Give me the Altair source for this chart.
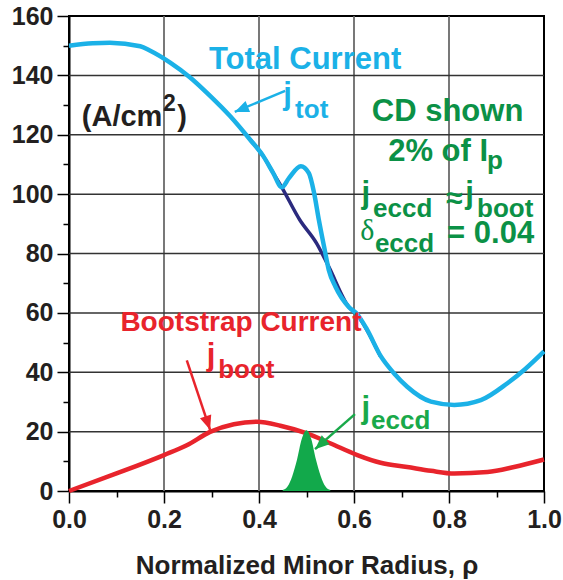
import math
import altair as alt
import pandas as pd

# ---------------- data ----------------
# total current with ECCD (cyan)
tot_x = [0.0, 0.05, 0.086, 0.15, 0.171, 0.213, 0.255, 0.297, 0.339, 0.381, 0.409, 0.430,
         0.448, 0.463, 0.488, 0.505, 0.516, 0.526, 0.537, 0.547, 0.561, 0.589, 0.607,
         0.627, 0.656, 0.685, 0.712, 0.762, 0.811, 0.867, 0.923, 0.96, 1.0]
tot_y = [150.0, 150.8, 151.0, 149.8, 148.3, 144.3, 139.3, 133.1, 126.3, 118.4, 112.8, 107.1,
         102.3, 105.4, 109.4, 107.1, 100.4, 91.3, 82.3, 74.4, 68.8, 62.0, 59.5,
         54.5, 45.5, 39.5, 35.1, 30.1, 29.0, 30.6, 36.3, 41.0, 47.0]

# total current without the ECCD bump (dark blue)
nocd_x = [0.381, 0.409, 0.430, 0.448, 0.486, 0.521, 0.547, 0.589, 0.607, 0.627, 0.656]
nocd_y = [118.4, 112.8, 107.1, 102.3, 91.3, 83.5, 75.5, 62.0, 59.3, 54.3, 45.3]

# bootstrap current (red)
boot_x = [0.0, 0.1, 0.2, 0.248, 0.297, 0.347, 0.396, 0.445, 0.501, 0.551, 0.607,
          0.656, 0.712, 0.762, 0.811, 0.881, 0.937, 1.0]
boot_y = [0.0, 5.9, 12.1, 15.4, 19.9, 22.5, 23.3, 22.0, 19.4, 16.0, 12.1,
          9.5, 8.1, 6.8, 5.9, 6.4, 8.1, 10.6]

# ECCD current (green filled peak)
eccd_x = [0.45, 0.46, 0.47, 0.48, 0.49, 0.50, 0.51, 0.52, 0.53, 0.54, 0.55]
eccd_y = [0.3, 1.5, 5.0, 10.5, 17.5, 20.5, 17.5, 10.5, 5.0, 1.5, 0.3]

x_ticks = [round(i * 0.1, 1) for i in range(11)]
y_ticks = list(range(0, 161, 10))
x_grid = [0.2, 0.4, 0.6, 0.8]
y_grid = [20, 40, 60, 80, 100, 120, 140]

# ---------------- colours ----------------
CYAN = "#1bb1e7"
NAVY = "#2b2a7e"
RED = "#e8242c"
GREEN_FILL = "#12a94b"
GREEN_DARK = "#0b9146"
GREEN_LIGHT = "#19a94a"
INK = "#231f20"

FONT = "Liberation Sans"
W, H = 475, 475

x_major = "round(datum.value*10) % 2 == 0"
y_major = "round(datum.value/10) % 2 == 0"

x_enc = alt.X(
    "x:Q",
    scale=alt.Scale(domain=[0, 1], nice=False, zero=False),
    axis=alt.Axis(
        values=x_ticks,
        grid=False,
        labelFlush=False,
        title="Normalized Minor Radius, ρ",
        labelExpr=x_major + " ? format(datum.value, '.1f') : ''",
        tickSize={"condition": {"test": x_major, "value": 12}, "value": 6},
        labelPadding=4,
        titlePadding=20,
    ),
)
y_enc = alt.Y(
    "y:Q",
    scale=alt.Scale(domain=[0, 160], nice=False),
    axis=alt.Axis(
        values=y_ticks,
        grid=False,
        labelFlush=False,
        title=None,
        labelExpr=y_major + " ? format(datum.value, 'd') : ''",
        tickSize={"condition": {"test": y_major, "value": 12}, "value": 6},
        labelPadding=4,
    ),
)

df_tot = pd.DataFrame({"x": tot_x, "y": tot_y})
df_nocd = pd.DataFrame({"x": nocd_x, "y": nocd_y})
df_boot = pd.DataFrame({"x": boot_x, "y": boot_y})
df_eccd = pd.DataFrame({"x": eccd_x, "y": eccd_y})

# grid lines (major only)
vgrid = alt.Chart(pd.DataFrame({"x": x_grid})).mark_rule(color="#6a6a6a", strokeWidth=1.8).encode(x=x_enc)
hgrid = alt.Chart(pd.DataFrame({"y": y_grid})).mark_rule(color="#333333", strokeWidth=1.5).encode(y=y_enc)

nocd = alt.Chart(df_nocd).mark_line(color=NAVY, strokeWidth=3.5, interpolate="monotone").encode(x=x_enc, y=y_enc)
tot = alt.Chart(df_tot).mark_line(color=CYAN, strokeWidth=4.5, interpolate="monotone").encode(x=x_enc, y=y_enc)
boot = alt.Chart(df_boot).mark_line(color=RED, strokeWidth=4.5, interpolate="monotone").encode(x=x_enc, y=y_enc)
eccd = alt.Chart(df_eccd).mark_area(color=GREEN_FILL, opacity=1, interpolate="monotone").encode(x=x_enc, y=y_enc)

# ---------------- arrows (start -> tip, data coords) ----------------
arrows = [
    (0.455, 134.8, 0.349, 127.7, CYAN),
    (0.248, 44.0, 0.297, 20.6, RED),
    (0.602, 25.9, 0.518, 14.1, GREEN_LIGHT),
]
px_x, px_y = W / 1.0, H / 160.0
arrow_layers = []
for (x0, y0, x1, y1, col) in arrows:
    dx = (x1 - x0) * px_x
    dy = -(y1 - y0) * px_y
    ang = math.degrees(math.atan2(dx, -dy)) % 360
    seg = pd.DataFrame({"x": [x0], "y": [y0], "x2": [x1], "y2": [y1]})
    arrow_layers.append(
        alt.Chart(seg).mark_rule(color=col, strokeWidth=2.5).encode(
            x=x_enc, y=y_enc, x2="x2:Q", y2="y2:Q")
    )
    head = pd.DataFrame({"x": [x1], "y": [y1], "a": [ang]})
    arrow_layers.append(
        alt.Chart(head).mark_point(
            shape="M0,0L0.42,1L-0.42,1Z", filled=True, opacity=1, color=col, size=800, strokeWidth=0
        ).encode(x=x_enc, y=y_enc, angle=alt.Angle("a:Q", scale=None))
    )

# ---------------- text annotations ----------------
# (text, x, y, font size, colour, align, weight, font)
labels = [
    ("Total Current", 0.497, 142.1, 31, CYAN, "center", "bold", FONT),
    ("j", 0.451, 130.2, 31, CYAN, "left", "bold", FONT),
    ("tot", 0.476, 125.8, 26, CYAN, "left", "bold", FONT),
    ("(A/cm", 0.027, 122.9, 29, INK, "left", "bold", FONT),
    ("2", 0.198, 128.0, 23, INK, "left", "bold", FONT),
    (")", 0.228, 122.9, 29, INK, "left", "bold", FONT),
    ("CD shown", 0.797, 124.5, 31, GREEN_DARK, "center", "bold", FONT),
    ("2% of I", 0.672, 111.1, 31, GREEN_DARK, "left", "bold", FONT),
    ("p", 0.880, 108.3, 26, GREEN_DARK, "left", "bold", FONT),
    ("j", 0.616, 97.1, 31, GREEN_DARK, "left", "bold", FONT),
    ("eccd", 0.640, 92.4, 26, GREEN_DARK, "left", "bold", FONT),
    ("≈", 0.811, 95.2, 30, GREEN_DARK, "center", "bold", FONT),
    ("j", 0.834, 97.1, 31, GREEN_DARK, "left", "bold", FONT),
    ("boot", 0.859, 92.4, 26, GREEN_DARK, "left", "bold", FONT),
    ("δ", 0.613, 84.6, 30, GREEN_DARK, "left", "normal", "Liberation Serif"),
    ("eccd", 0.644, 80.5, 26, GREEN_DARK, "left", "bold", FONT),
    ("= 0.04", 0.796, 83.6, 31, GREEN_DARK, "left", "bold", FONT),
    ("Bootstrap Current", 0.362, 53.9, 28, RED, "center", "bold", FONT),
    ("j", 0.290, 42.3, 31, RED, "left", "bold", FONT),
    ("boot", 0.314, 37.9, 26, RED, "left", "bold", FONT),
    ("j", 0.616, 24.7, 31, GREEN_LIGHT, "left", "bold", FONT),
    ("eccd", 0.636, 21.0, 26, GREEN_LIGHT, "left", "bold", FONT),
]
text_layers = []
for (t, x, y, s, col, al, wt, fnt) in labels:
    d = pd.DataFrame({"x": [x], "y": [y], "t": [t]})
    text_layers.append(
        alt.Chart(d).mark_text(
            align=al, baseline="alphabetic", font=fnt, fontSize=s, fontWeight=wt, color=col
        ).encode(x=x_enc, y=y_enc, text="t:N")
    )

# base layer that carries both axes
axes_layer = alt.Chart(df_tot).mark_line(opacity=0).encode(x=x_enc, y=y_enc)

chart = alt.layer(axes_layer, vgrid, hgrid, nocd, tot, boot, eccd, *arrow_layers, *text_layers).properties(
    width=W,
    height=H,
    padding={"left": 69, "top": 16, "right": 19, "bottom": 89},
    autosize=alt.AutoSizeParams(type="none"),
    background="white",
).configure_view(
    stroke="black", strokeWidth=2
).configure_axis(
    labelFont=FONT, labelFontWeight="bold", labelFontSize=25, labelColor=INK,
    titleFont=FONT, titleFontWeight="bold", titleFontSize=26, titleColor=INK,
    domainColor="black", domainWidth=2, tickColor="black", tickWidth=1.5,
)

chart.save("out.html", embed_options={"renderer": "svg", "actions": False})
